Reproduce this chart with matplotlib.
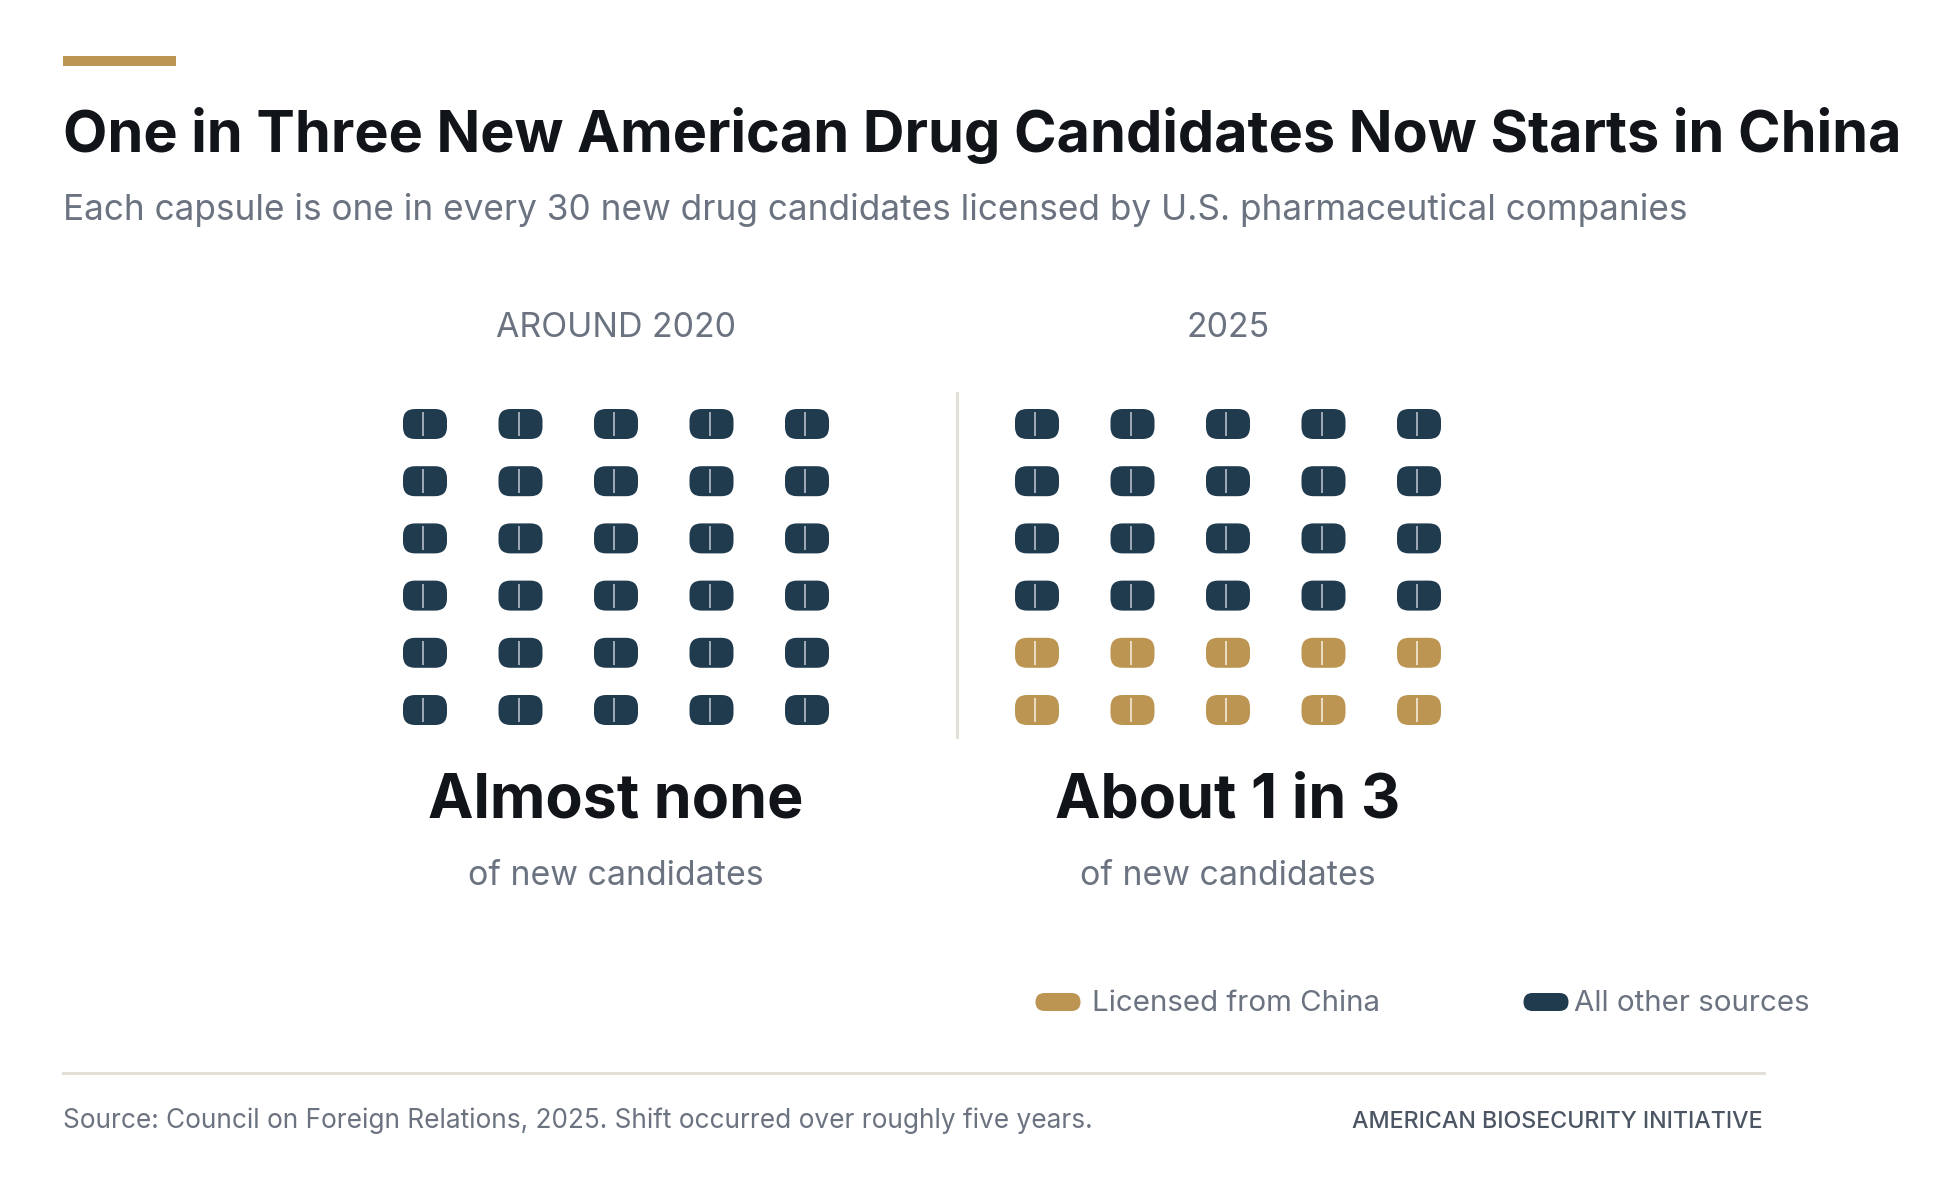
import matplotlib
matplotlib.use("Agg")
import matplotlib.pyplot as plt
from matplotlib.patches import FancyBboxPatch, Rectangle

plt.rcParams['font.family'] = ['Inter', 'DejaVu Sans']

# data
panel_labels = ["AROUND 2020", "2025"]
total_capsules = [30, 30]
china_capsules = [0, 10]
headline = ["Almost none", "About 1 in 3"]
sub_label = "of new candidates"
legend_labels = ["Licensed from China", "All other sources"]

NAVY = "#203a4e"
GOLD = "#bc9552"
DARK = "#111418"
GRAY = "#6b7280"
RULE = "#e3e0d8"

W, H = 1959, 1195
fig = plt.figure(figsize=(W / 100, H / 100), dpi=100)
ax = fig.add_axes([0, 0, 1, 1])
ax.set_xlim(0, W)
ax.set_ylim(H, 0)
ax.axis('off')

PT = 0.72  # px -> pt at 100 dpi


def pill(cx, cy, color, w=44, h=30, r=12, groove=True):
    ax.add_patch(FancyBboxPatch((cx - w / 2 + r, cy - h / 2 + r), w - 2 * r, h - 2 * r,
                                boxstyle="round,pad=%g" % r, fc=color, ec='none'))
    if groove:
        lc = "#a0acb8" if color == NAVY else "#ecdfc4"
        ax.plot([cx - 2, cx - 2], [cy - 12, cy + 12], color=lc, lw=1.4, solid_capstyle='butt')


# header
ax.add_patch(Rectangle((63, 56), 113, 10, fc=GOLD, ec='none'))
ax.text(63, 152, "One in Three New American Drug Candidates Now Starts in China",
        fontsize=57.6 * PT, fontweight='bold', color=DARK, va='baseline')
ax.text(63, 220, "Each capsule is one in every 30 new drug candidates licensed by U.S. pharmaceutical companies",
        fontsize=35.2 * PT, color=GRAY, va='baseline')

# capsule panels
centers = [616, 1228]
ncols, nrows = 5, 6
col_gap, row_gap = 95.5, 57.2
top_row = 424
for p, cx0 in enumerate(centers):
    ax.text(cx0, 337, panel_labels[p], fontsize=33.9 * PT, color=GRAY,
            ha='center', va='baseline')
    n_other = total_capsules[p] - china_capsules[p]
    for i in range(total_capsules[p]):
        r, c = divmod(i, ncols)
        cx = cx0 + (c - (ncols - 1) / 2) * col_gap
        cy = top_row + r * row_gap
        pill(cx, cy, NAVY if i < n_other else GOLD)
    ax.text(cx0, 817, headline[p], fontsize=61 * PT, fontweight='bold',
            color=DARK, ha='center', va='baseline')
    ax.text(cx0, 885, sub_label, fontsize=33.9 * PT, color=GRAY,
            ha='center', va='baseline')

ax.plot([957, 957], [393, 737], color=RULE, lw=2.2)

# legend
for x0, off, col, lab in [(1058, 34.5, GOLD, legend_labels[0]), (1546, 28, NAVY, legend_labels[1])]:
    pill(x0, 1002, col, w=45, h=18, r=9, groove=False)
    ax.text(x0 + off, 1003, lab, fontsize=29.5 * PT, color=GRAY, va='center')

# footer
ax.plot([63, 1764], [1073, 1073], color=RULE, lw=2.2)
ax.text(63, 1128, "Source: Council on Foreign Relations, 2025. Shift occurred over roughly five years.",
        fontsize=26.2 * PT, color=GRAY, va='baseline')
ax.text(1763, 1128, "AMERICAN BIOSECURITY INITIATIVE", fontsize=23.2 * PT, color="#4b5563",
        fontweight='medium', ha='right', va='baseline')

fig.savefig("out.png", dpi=100, facecolor='white')
